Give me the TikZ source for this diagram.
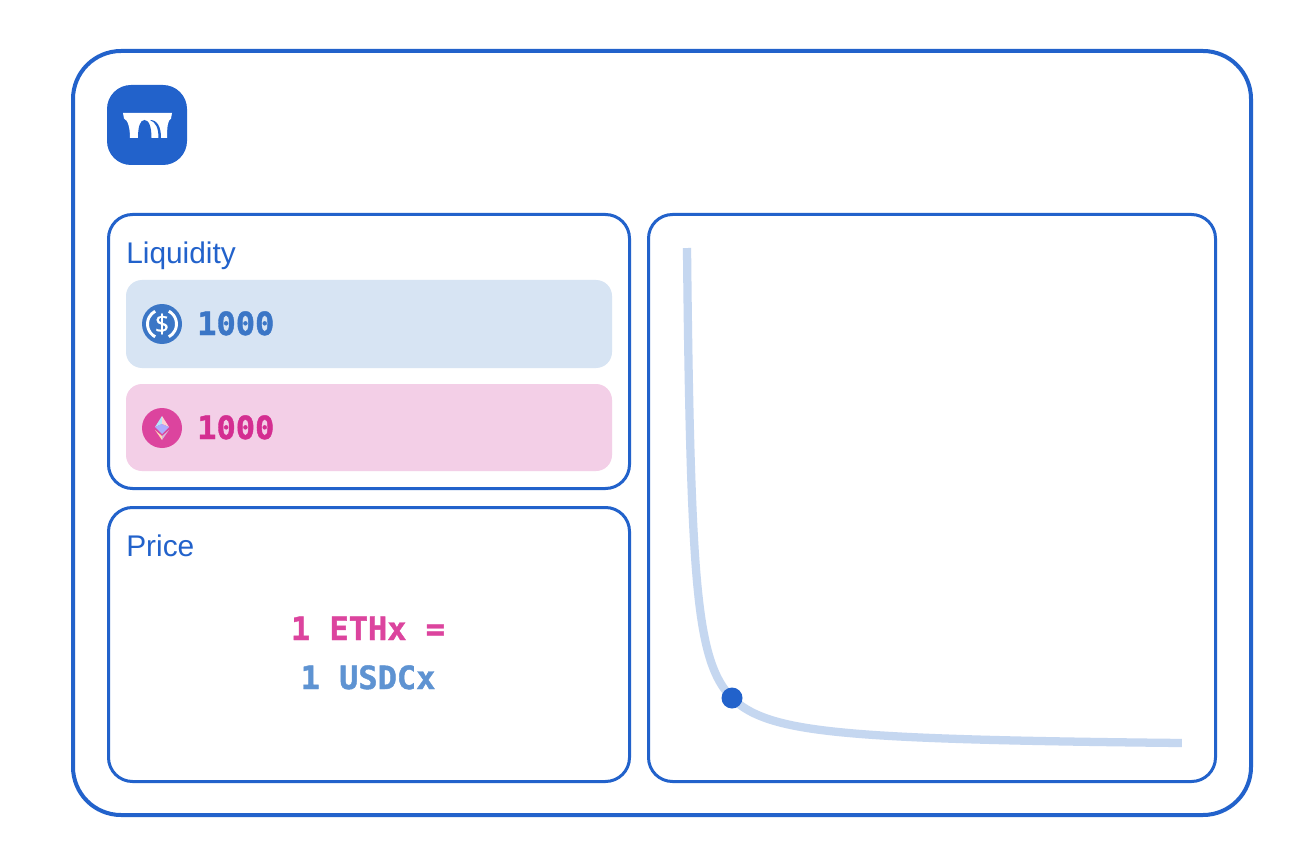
\documentclass[tikz,border=0pt]{standalone}
\usepackage{fontspec}
\setmainfont{Liberation Sans}
\newfontfamily\monob[FakeBold=1.3]{DejaVu Sans Mono Bold}
\newfontfamily\dollarf[FakeBold=0.6]{Open Sans}
\definecolor{brand}{HTML}{2262CB}
\definecolor{curveblue}{HTML}{C5D7F0}
\definecolor{usdbg}{HTML}{D7E4F3}
\definecolor{ethbg}{HTML}{F3CFE7}
\definecolor{usdtxt}{HTML}{3B76C6}
\definecolor{ethtxt}{HTML}{D42E91}
\definecolor{ethic}{HTML}{DC449E}
\definecolor{usdprice}{HTML}{5E93D2}
\tikzset{
 x=0.75pt,y=-0.75pt,
 panel/.style={draw=brand,line width=2.25pt,fill=white,rounded corners=18pt},
 title/.style={text=brand,font=\fontsize{22.4}{24}\selectfont,anchor=base west,inner sep=0pt},
 amount/.style={font=\monob\fontsize{24}{28}\selectfont,anchor=base west,inner sep=0pt},
 price/.style={font=\monob\fontsize{24}{36}\selectfont,anchor=base,inner sep=0pt},
}
\begin{document}
\begin{tikzpicture}
\useasboundingbox (0,0) rectangle (1306,852);
\fill[white] (0,0) rectangle (1306,852);
\draw[draw=brand,line width=3pt,rounded corners=36pt] (73,51) rectangle (1251,815);
% logo
\fill[brand,rounded corners=18pt] (107,85) rectangle (187,165);
\fill[white] (123,113) -- (172,113) -- (171,118.5) .. controls (168,120) and (167,126) .. (167,138) -- (130,138) .. controls (130,128) and (128,120) .. (124,118.5) -- cycle;
% arch openings
\fill[brand] (138,138) .. controls (138,127) and (140,120) .. (144.5,120) .. controls (149,120) and (151.5,127) .. (151.5,138) -- cycle;
% thin curved shadow
\fill[brand] (158.5,138) .. controls (158.5,128) and (156,122.5) .. (150,120) .. controls (157.5,120) and (161,127) .. (161,138) -- cycle;
% panels
\draw[panel] (108.5,214.5) rectangle (629.5,488.5);
\draw[panel] (108.5,507.5) rectangle (629.5,781.5);
\draw[panel] (648.5,214.5) rectangle (1215.5,781.5);
\node[title] (liq) at (126,263) {Liquidity};
\node[title] (pri) at (126,556) {Price};
\fill[usdbg,rounded corners=12pt] (126,280) rectangle (612,368);
\fill[ethbg,rounded corners=12pt] (126,384) rectangle (612,471);
% usdc
\fill[usdtxt] (162,324) circle (20);
\draw[white,line width=2.2pt] (162,324) ++(-62:14.5) arc (-62:62:14.5);
\draw[white,line width=2.2pt] (162,324) ++(118:14.5) arc (118:242:14.5);
\node[text=white,font=\dollarf\fontsize{19}{19}\selectfont,inner sep=0pt] (d) at (162,324) {\$};
\node[amount,text=usdtxt] (a1) at (197,335) {1000};
% eth
\fill[ethic] (162,428) circle (20);
\fill[cyan!30!white] (162,416) -- (155,427) -- (162,424) -- cycle;
\fill[pink!75!white] (162,416) -- (169,427) -- (162,424) -- cycle;
\fill[blue!32!white] (155,427) -- (162,424) -- (169,427) -- (162,434) -- cycle;
\fill[orange!30!white] (155,430) -- (162,436) -- (162,440) -- cycle;
\fill[violet!30!white] (169,430) -- (162,436) -- (162,440) -- cycle;
\node[amount,text=ethtxt] (a2) at (197,439) {1000};
% price
\node[price,text=ethic] (p1) at (368,640) {1 ETHx =};
\node[price,text=usdprice] (p2) at (368,689) {1 USDCx};
% curve
\draw[curveblue,line width=6.2pt,samples=120,domain=-2.3026:2.3026,variable=\t]
  plot ({682+50*exp(\t)},{748-50*exp(-\t)});
\fill[brand] (732,698) circle (10.5);
\end{tikzpicture}
\end{document}
